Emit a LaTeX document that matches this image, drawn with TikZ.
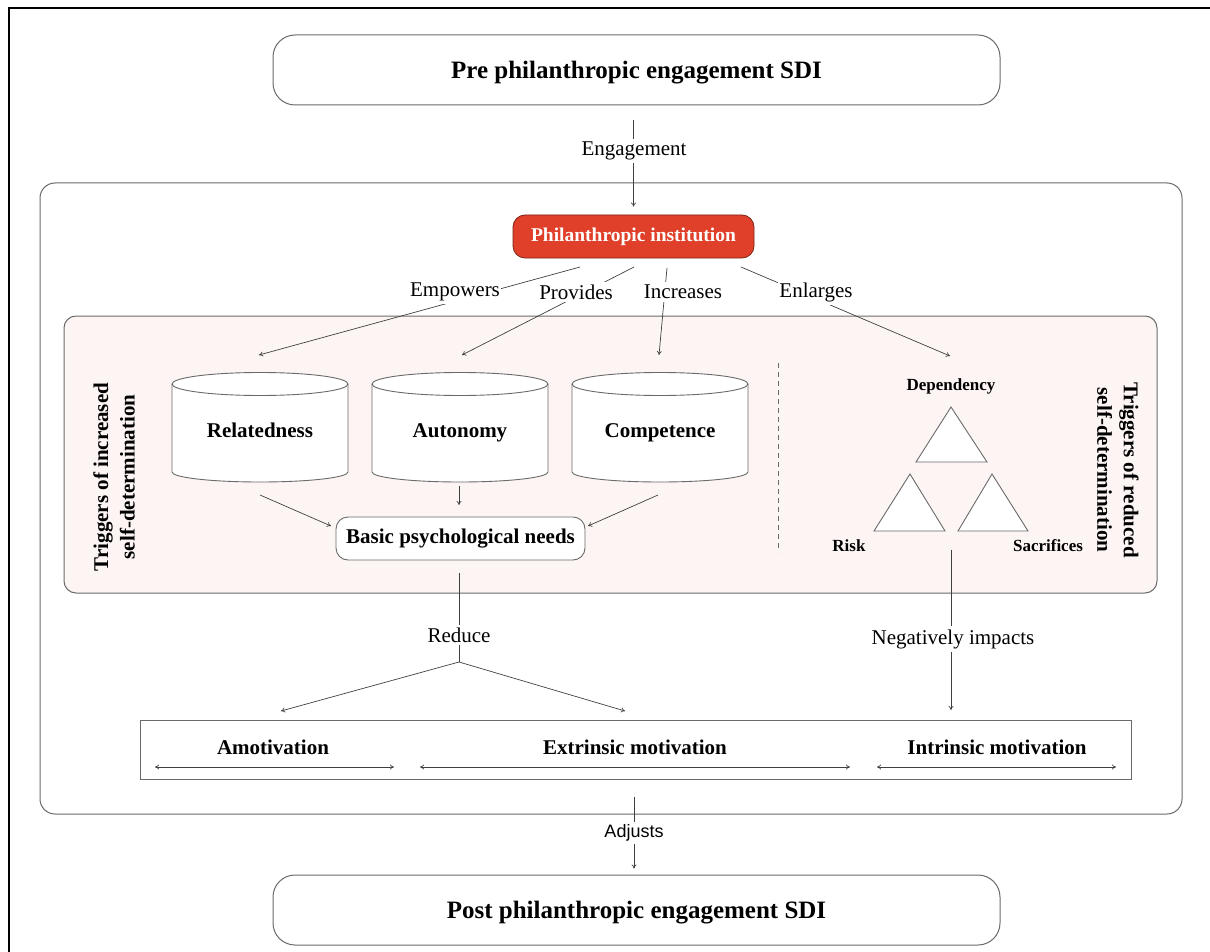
\documentclass[tikz,border=0pt]{standalone}
\usepackage{fontspec}
\setmainfont{Liberation Serif}
\newfontfamily\sansf{Liberation Sans}
\usetikzlibrary{arrows.meta}
\definecolor{instred}{HTML}{E0402A}
\definecolor{instedge}{HTML}{7A2418}
\definecolor{panelpink}{HTML}{FDF5F3}
\definecolor{edgegray}{HTML}{6A6A6A}
\newcommand\mycyl[3]{%
  \path[fill=white] (#1-88,384) -- (#1-88,472) arc[start angle=180,end angle=360,x radius=88pt,y radius=10pt] -- (#1+88,384) -- cycle;
  \draw[cylline] (#1-88,384) -- (#1-88,472) arc[start angle=180,end angle=360,x radius=88pt,y radius=10pt] -- (#1+88,384);
  \draw[cylline,fill=white] (#1,384) ellipse[x radius=88pt,y radius=11.5pt];
  \node[cyltext, anchor=base] (#3) at (#1,437) {#2};
}
\begin{document}
\begin{tikzpicture}[x=1pt,y=-1pt,
  conn/.style={draw=black!75, line width=0.7pt},
  arr/.style={conn, -{To[length=4pt,width=5pt]}},
  darr/.style={conn, {To[length=4pt,width=5pt]}-{To[length=4pt,width=5pt]}},
  lbl/.style={fill=white, inner xsep=1.5pt, inner ysep=3pt, font=\fontsize{21}{24}\selectfont},
  sdibox/.style={draw=edgegray, line width=1pt, rounded corners=22pt, minimum width=727pt, minimum height=70pt, text depth=0pt, text height=17pt, font=\bfseries\fontsize{25}{28}\selectfont},
  cylline/.style={draw=edgegray, line width=0.9pt},
  cyltext/.style={font=\bfseries\fontsize{21}{24}\selectfont},
  trig/.style={font=\bfseries\fontsize{21}{23.5}\selectfont, align=center},
  smallbold/.style={font=\bfseries\fontsize{17}{20}\selectfont},
  motivtext/.style={font=\bfseries\fontsize{21}{24}\selectfont},
  tri/.style={draw=edgegray, line width=0.9pt, fill=white, line join=miter}
]
\useasboundingbox (0,0) rectangle (1210,952);
\draw[line width=1.6pt] (9,952) -- (9,8) -- (1210,8);

% outer container and panel
\node[draw=edgegray, line width=1pt, rounded corners=15pt, minimum width=1142pt, minimum height=631pt] (outer) at (611,498.5) {};
\node[draw=edgegray, line width=1pt, fill=panelpink, rounded corners=12pt, minimum width=1093pt, minimum height=277pt] (panel) at (610.5,454.5) {};

% top and bottom boxes
\node[sdibox] (pre) at (636.5,70) {Pre philanthropic engagement SDI};
\node[sdibox] (post) at (636.5,910) {Post philanthropic engagement SDI};

% institution
\node[draw=instedge, fill=instred, line width=0.8pt, rounded corners=12pt, minimum width=241pt, minimum height=43pt, text=white, font=\bfseries\fontsize{19.5}{22}\selectfont] (inst) at (633.5,236.5) {Philanthropic institution};

% engagement
\draw[arr, shorten <=15pt, shorten >=8pt] (pre.south -| inst.north) -- (inst.north);
\node[lbl] (eng) at (634,151) {Engagement};

% branches from institution
\coordinate (s1) at (580,267); \coordinate (t1) at (259,355);
\coordinate (s2) at (634,267); \coordinate (t2) at (462,355);
\coordinate (s3) at (667,268); \coordinate (t3) at (659,355);
\coordinate (s4) at (741,267); \coordinate (t4) at (950,356);
\draw[arr] (s1) -- (t1);
\draw[arr] (s2) -- (t2);
\draw[arr] (s3) -- (t3);
\draw[arr] (s4) -- (t4);
\node[lbl] (emp) at (455,292) {Empowers};
\node[lbl] (prov) at (576,292) {Provides};
\node[lbl] (inc) at (683,292) {Increases};
\node[lbl] (enl) at (816,292) {Enlarges};

% cylinders
\mycyl{260}{Relatedness}{rel}
\mycyl{460}{Autonomy}{aut}
\mycyl{660}{Competence}{com}

% basic needs
\node[draw=edgegray, line width=0.9pt, fill=white, rounded corners=12pt, minimum width=249pt, minimum height=43pt, font=\bfseries\fontsize{21}{24}\selectfont] (basic) at (460.5,538.5) {Basic psychological needs};
\coordinate (r1) at (260,495); \coordinate (r2) at (331,526);
\coordinate (a1) at (459,486); \coordinate (a2) at (459,505);
\coordinate (c1) at (658,495); \coordinate (c2) at (588,526);
\draw[arr] (r1) -- (r2);
\draw[arr] (a1) -- (a2);
\draw[arr] (c1) -- (c2);

% rotated titles
\node[trig, rotate=90] (tinc) at (114,477) {Triggers of increased\\[3pt]self-determination};
\node[trig, rotate=-90] (tred) at (1118,470) {Triggers of reduced\\[3pt]self-determination};

% dashed separator
\draw[edgegray, line width=0.9pt, dash pattern=on 5pt off 4pt] (778,363) -- (778,552);

% triangles
\draw[tri] (951,407) -- (987,462) -- (916,462) -- cycle;
\draw[tri] (910,474) -- (945,531) -- (874,531) -- cycle;
\draw[tri] (992,474) -- (1028,531) -- (958,531) -- cycle;
\node[smallbold] (dep) at (951,386) {Dependency};
\node[smallbold] (risk) at (849,546) {Risk};
\node[smallbold] (sac) at (1048,546) {Sacrifices};

% reduce
\coordinate (rj) at (459,662);
\draw[conn, shorten <=13pt] (basic.south -| rj) -- (rj);
\coordinate (ra) at (281,711); \coordinate (rb) at (625,711);
\draw[arr] (rj) -- (ra);
\draw[arr] (rj) -- (rb);
\node[lbl] (red) at (459,635) {Reduce};

% negatively impacts
\coordinate (n1) at (951,550); \coordinate (n2) at (951,710);
\draw[arr] (n1) -- (n2);
\node[lbl] (neg) at (953,639) {Negatively impacts};

% motivation box
\node[draw=edgegray, line width=1pt, fill=white, minimum width=991pt, minimum height=59pt] (motiv) at (635.5,749.5) {};
\node[motivtext] (amo) at (273,747) {Amotivation};
\node[motivtext] (ext) at (635,747) {Extrinsic motivation};
\node[motivtext] (int) at (997,747) {Intrinsic motivation};
\coordinate (am1) at (155,767); \coordinate (am2) at (394,767);
\coordinate (ex1) at (420,767); \coordinate (ex2) at (850,767);
\coordinate (in1) at (877,767); \coordinate (in2) at (1116,767);
\draw[darr] (am1) -- (am2);
\draw[darr] (ex1) -- (ex2);
\draw[darr] (in1) -- (in2);

% adjusts
\draw[arr, shorten <=17pt, shorten >=6pt] (motiv.south -| eng) -- (post.north -| eng);
\node[lbl, font=\sansf\fontsize{18}{21}\selectfont] (adj) at (634,833) {Adjusts};
\end{tikzpicture}
\end{document}
